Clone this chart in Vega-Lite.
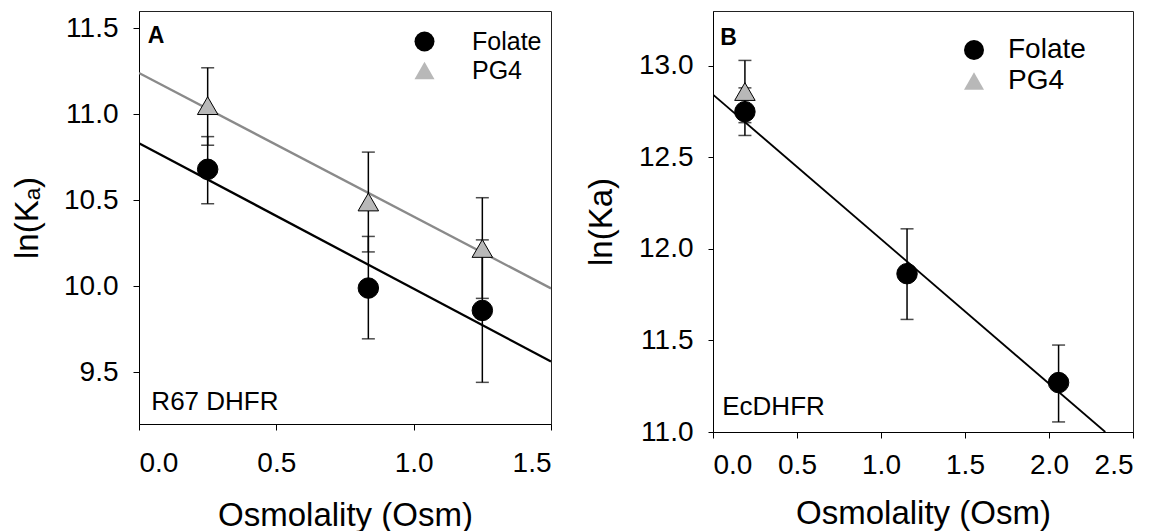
{
  "$schema": "https://vega.github.io/schema/vega-lite/v6.json",
  "background": "white",
  "padding": {"left": 11, "top": 10, "right": 5, "bottom": 0},
  "spacing": 33,
  "config": {
    "font": "Liberation Sans",
    "view": {"stroke": "#222222", "strokeWidth": 1},
    "axis": {
      "grid": false, "domainColor": "black", "tickColor": "black", "labelColor": "black", "titleColor": "black",
      "labelFontSize": 28, "titleFontSize": 33, "titleFontWeight": "normal", "tickSize": 6,
      "labelFont": "Liberation Sans", "titleFont": "Liberation Sans", "domainWidth": 1, "tickWidth": 1
    }
  },
  "datasets": {
    "ptsA": [
      {"series": "Folate", "x": 0.25, "y": 10.68, "lo": 10.48, "hi": 10.87},
      {"series": "Folate", "x": 0.835, "y": 9.99, "lo": 9.695, "hi": 10.29},
      {"series": "Folate", "x": 1.25, "y": 9.86, "lo": 9.442, "hi": 10.27},
      {"series": "PG4", "x": 0.25, "y": 11.05, "lo": 10.82, "hi": 11.27},
      {"series": "PG4", "x": 0.835, "y": 10.49, "lo": 10.2, "hi": 10.78},
      {"series": "PG4", "x": 1.25, "y": 10.22, "lo": 9.93, "hi": 10.515}
    ],
    "lineAFolate": [
      {"series": "Folate", "x": 0, "y": 10.832},
      {"series": "Folate", "x": 1.5, "y": 9.563}
    ],
    "lineAPG4": [
      {"series": "PG4", "x": 0, "y": 11.24},
      {"series": "PG4", "x": 1.5, "y": 9.988}
    ],
    "ptsB": [
      {"series": "Folate", "x": 0.19, "y": 12.75, "lo": 12.62, "hi": 12.88},
      {"series": "Folate", "x": 1.155, "y": 11.865, "lo": 11.615, "hi": 12.11},
      {"series": "Folate", "x": 2.057, "y": 11.27, "lo": 11.055, "hi": 11.475},
      {"series": "PG4", "x": 0.19, "y": 12.86, "lo": 12.69, "hi": 13.03}
    ],
    "lineB": [
      {"series": "Folate", "x": 0, "y": 12.843},
      {"series": "Folate", "x": 2.335, "y": 11.0}
    ]
  },
  "hconcat": [
    {
      "width": 412,
      "height": 413,
      "layer": [
        {
          "data": {"name": "lineAFolate"},
          "mark": {"type": "line", "strokeWidth": 2.3, "clip": true, "color": "black"},
          "encoding": {
            "x": {"field": "x", "type": "quantitative", "scale": {"domain": [0, 1.5], "nice": false, "zero": false},
                  "axis": {"values": [0, 0.5, 1, 1.5], "format": ".1f", "labelPadding": 19, "titlePadding": 22, "title": "Osmolality (Osm)"}},
            "y": {"field": "y", "type": "quantitative", "scale": {"domain": [9.2, 11.6], "nice": false, "zero": false},
                  "axis": {"values": [9.5, 10, 10.5, 11, 11.5], "format": ".1f", "labelPadding": 15, "titlePadding": 19, "title": "ln(Kₐ)"}}
          }
        },
        {
          "data": {"name": "lineAPG4"},
          "mark": {"type": "line", "strokeWidth": 2.3, "clip": true, "color": "#8a8a8a"},
          "encoding": {
            "x": {"field": "x", "type": "quantitative", "title": "Osmolality (Osm)"},
            "y": {"field": "y", "type": "quantitative", "title": "ln(Kₐ)"}
          }
        },
        {
          "data": {"name": "ptsA"},
          "mark": {"type": "errorbar", "color": "black", "thickness": 1.5, "ticks": {"size": 13, "thickness": 1.5, "color": "black"}},
          "encoding": {
            "x": {"field": "x", "type": "quantitative", "title": "Osmolality (Osm)"},
            "y": {"field": "lo", "type": "quantitative", "title": "ln(Kₐ)"},
            "y2": {"field": "hi"}
          }
        },
        {
          "data": {"name": "ptsA"},
          "mark": {"type": "point", "filled": true, "size": 420, "opacity": 1, "stroke": "black", "strokeWidth": 1},
          "encoding": {
            "x": {"field": "x", "type": "quantitative", "title": "Osmolality (Osm)"},
            "y": {"field": "y", "type": "quantitative", "title": "ln(Kₐ)"},
            "fill": {"field": "series", "type": "nominal", "scale": {"domain": ["Folate", "PG4"], "range": ["black", "#b8b8b8"]},
                     "legend": {"orient": "none", "legendX": 273, "legendY": 18, "title": null, "labelFontSize": 25, "labelFont": "Liberation Sans", "labelColor": "black", "symbolSize": 400, "labelOffset": 35, "rowPadding": 3, "padding": 0, "symbolStrokeColor": "black", "symbolStrokeWidth": 1}},
            "shape": {"field": "series", "type": "nominal", "scale": {"domain": ["Folate", "PG4"], "range": ["circle", "triangle-up"]},
                     "legend": {"orient": "none", "legendX": 273, "legendY": 18, "title": null, "labelFontSize": 25, "labelFont": "Liberation Sans", "labelColor": "black", "symbolSize": 400, "labelOffset": 35, "rowPadding": 3, "padding": 0, "symbolStrokeColor": "black", "symbolStrokeWidth": 1}}
          }
        },
        {
          "data": {"values": [{}]},
          "mark": {"type": "text", "fontWeight": "bold", "fontSize": 23, "align": "left", "baseline": "alphabetic", "color": "black"},
          "encoding": {"x": {"datum": 0.032, "type": "quantitative"}, "y": {"datum": 11.414, "type": "quantitative"}, "text": {"value": "A"}}
        },
        {
          "data": {"values": [{}]},
          "mark": {"type": "text", "fontSize": 26, "align": "left", "baseline": "alphabetic", "color": "black"},
          "encoding": {"x": {"datum": 0.045, "type": "quantitative"}, "y": {"datum": 9.284, "type": "quantitative"}, "text": {"value": "R67 DHFR"}}
        }
      ]
    },
    {
      "width": 420,
      "height": 421,
      "layer": [
        {
          "data": {"name": "lineB"},
          "mark": {"type": "line", "strokeWidth": 1.8, "clip": true, "color": "black"},
          "encoding": {
            "x": {"field": "x", "type": "quantitative", "scale": {"domain": [0, 2.5], "nice": false, "zero": false},
                  "axis": {"values": [0, 0.5, 1, 1.5, 2, 2.5], "format": ".1f", "labelPadding": 13, "titlePadding": 18, "title": "Osmolality (Osm)"}},
            "y": {"field": "y", "type": "quantitative", "scale": {"domain": [11, 13.3], "nice": false, "zero": false},
                  "axis": {"values": [11, 11.5, 12, 12.5, 13], "format": ".1f", "labelPadding": 15, "tickSize": 5, "titlePadding": 20, "title": "ln(Ka)"}}
          }
        },
        {
          "data": {"name": "ptsB"},
          "mark": {"type": "errorbar", "color": "black", "thickness": 1.5, "ticks": {"size": 13, "thickness": 1.5, "color": "black"}},
          "encoding": {
            "x": {"field": "x", "type": "quantitative", "title": "Osmolality (Osm)"},
            "y": {"field": "lo", "type": "quantitative", "title": "ln(Ka)"},
            "y2": {"field": "hi"}
          }
        },
        {
          "data": {"name": "ptsB"},
          "mark": {"type": "point", "filled": true, "size": 420, "opacity": 1, "stroke": "black", "strokeWidth": 1},
          "encoding": {
            "x": {"field": "x", "type": "quantitative", "title": "Osmolality (Osm)"},
            "y": {"field": "y", "type": "quantitative", "title": "ln(Ka)"},
            "fill": {"field": "series", "type": "nominal", "scale": {"domain": ["Folate", "PG4"], "range": ["black", "#b8b8b8"]},
                     "legend": {"orient": "none", "legendX": 247, "legendY": 25, "title": null, "labelFontSize": 28, "labelFont": "Liberation Sans", "labelColor": "black", "symbolSize": 400, "labelOffset": 20, "rowPadding": 3, "padding": 0, "symbolStrokeColor": "black", "symbolStrokeWidth": 1}},
            "shape": {"field": "series", "type": "nominal", "scale": {"domain": ["Folate", "PG4"], "range": ["circle", "triangle-up"]},
                     "legend": {"orient": "none", "legendX": 247, "legendY": 25, "title": null, "labelFontSize": 28, "labelFont": "Liberation Sans", "labelColor": "black", "symbolSize": 400, "labelOffset": 20, "rowPadding": 3, "padding": 0, "symbolStrokeColor": "black", "symbolStrokeWidth": 1}}
          }
        },
        {
          "data": {"values": [{}]},
          "mark": {"type": "text", "fontWeight": "bold", "fontSize": 23, "align": "left", "baseline": "alphabetic", "color": "black"},
          "encoding": {"x": {"datum": 0.043, "type": "quantitative"}, "y": {"datum": 13.113, "type": "quantitative"}, "text": {"value": "B"}}
        },
        {
          "data": {"values": [{}]},
          "mark": {"type": "text", "fontSize": 26, "align": "left", "baseline": "alphabetic", "color": "black"},
          "encoding": {"x": {"datum": 0.055, "type": "quantitative"}, "y": {"datum": 11.095, "type": "quantitative"}, "text": {"value": "EcDHFR"}}
        }
      ]
    }
  ],
  "resolve": {
    "scale": {"x": "independent", "y": "independent", "fill": "independent", "shape": "independent"},
    "axis": {"x": "independent", "y": "independent"},
    "legend": {"fill": "independent", "shape": "independent"}
  }
}
